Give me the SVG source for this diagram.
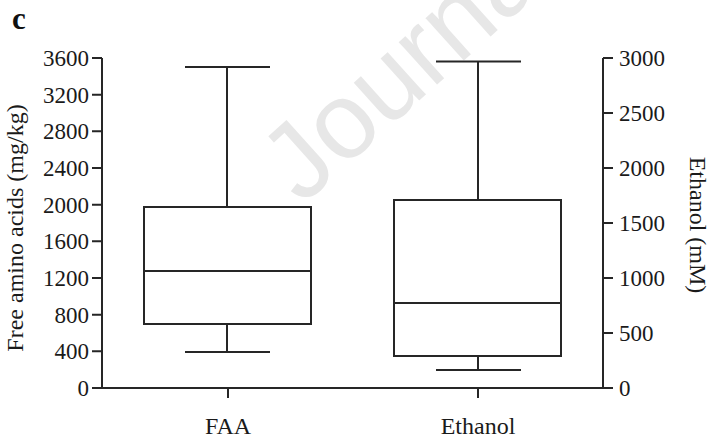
<svg xmlns="http://www.w3.org/2000/svg" width="716" height="442" viewBox="0 0 716 442">
<style>
.ln{stroke:#262626;stroke-width:2;fill:none;stroke-linecap:butt}
.tk{font-family:"Liberation Serif","Times New Roman",serif;font-size:23px;fill:#1a1a1a}
.lb{font-family:"Liberation Serif","Times New Roman",serif;font-size:24px;fill:#1a1a1a}
.wm{font-family:"Liberation Sans",Arial,sans-serif;font-size:108px;fill:#e7e7e7}
</style>
<rect width="716" height="442" fill="#fff"/>
<text class="wm" transform="translate(302,206) rotate(-42)">Journa</text>
<text x="12" y="29" font-family="Liberation Serif, Times New Roman, serif" font-weight="bold" font-size="31" fill="#111">c</text>
<g id="axes" class="ln">
<path d="M102,58V388H603V58"/>
<path d="M92,388H102M92,351.3H102M92,314.7H102M92,278H102M92,241.3H102M92,204.7H102M92,168H102M92,131.3H102M92,94.7H102M92,58H102"/>
<path d="M603,388H613M603,333H613M603,278H613M603,223H613M603,168H613M603,113H613M603,58H613"/>
<path d="M228,388V398M478,388V398"/>
</g>
<g id="left-labels" class="tk" text-anchor="end">
<text x="89" y="396">0</text>
<text x="89" y="359.3">400</text>
<text x="89" y="322.7">800</text>
<text x="89" y="286">1200</text>
<text x="89" y="249.3">1600</text>
<text x="89" y="212.7">2000</text>
<text x="89" y="176">2400</text>
<text x="89" y="139.3">2800</text>
<text x="89" y="102.7">3200</text>
<text x="89" y="66">3600</text>
</g>
<g id="right-labels" class="tk">
<text x="619" y="396">0</text>
<text x="619" y="341">500</text>
<text x="619" y="286">1000</text>
<text x="619" y="231">1500</text>
<text x="619" y="176">2000</text>
<text x="619" y="121">2500</text>
<text x="619" y="66">3000</text>
</g>
<g id="titles" class="lb">
<text transform="translate(23,228) rotate(-90)" text-anchor="middle">Free amino acids (mg/kg)</text>
<text transform="translate(690,225) rotate(90)" text-anchor="middle">Ethanol (mM)</text>
<text x="228" y="434" text-anchor="middle">FAA</text>
<text x="478" y="434" text-anchor="middle">Ethanol</text>
</g>
<g id="box-faa" class="ln">
<rect x="144" y="207" width="167" height="117"/>
<path d="M144,271H311"/>
<path d="M227,207V67M185,67H270"/>
<path d="M227,324V352M185,352H270"/>
</g>
<g id="box-ethanol" class="ln">
<rect x="394" y="200" width="167" height="156"/>
<path d="M394,303H561"/>
<path d="M478,200V61.5M436,61.5H521"/>
<path d="M478,356V370M436,370H521"/>
</g>
</svg>
